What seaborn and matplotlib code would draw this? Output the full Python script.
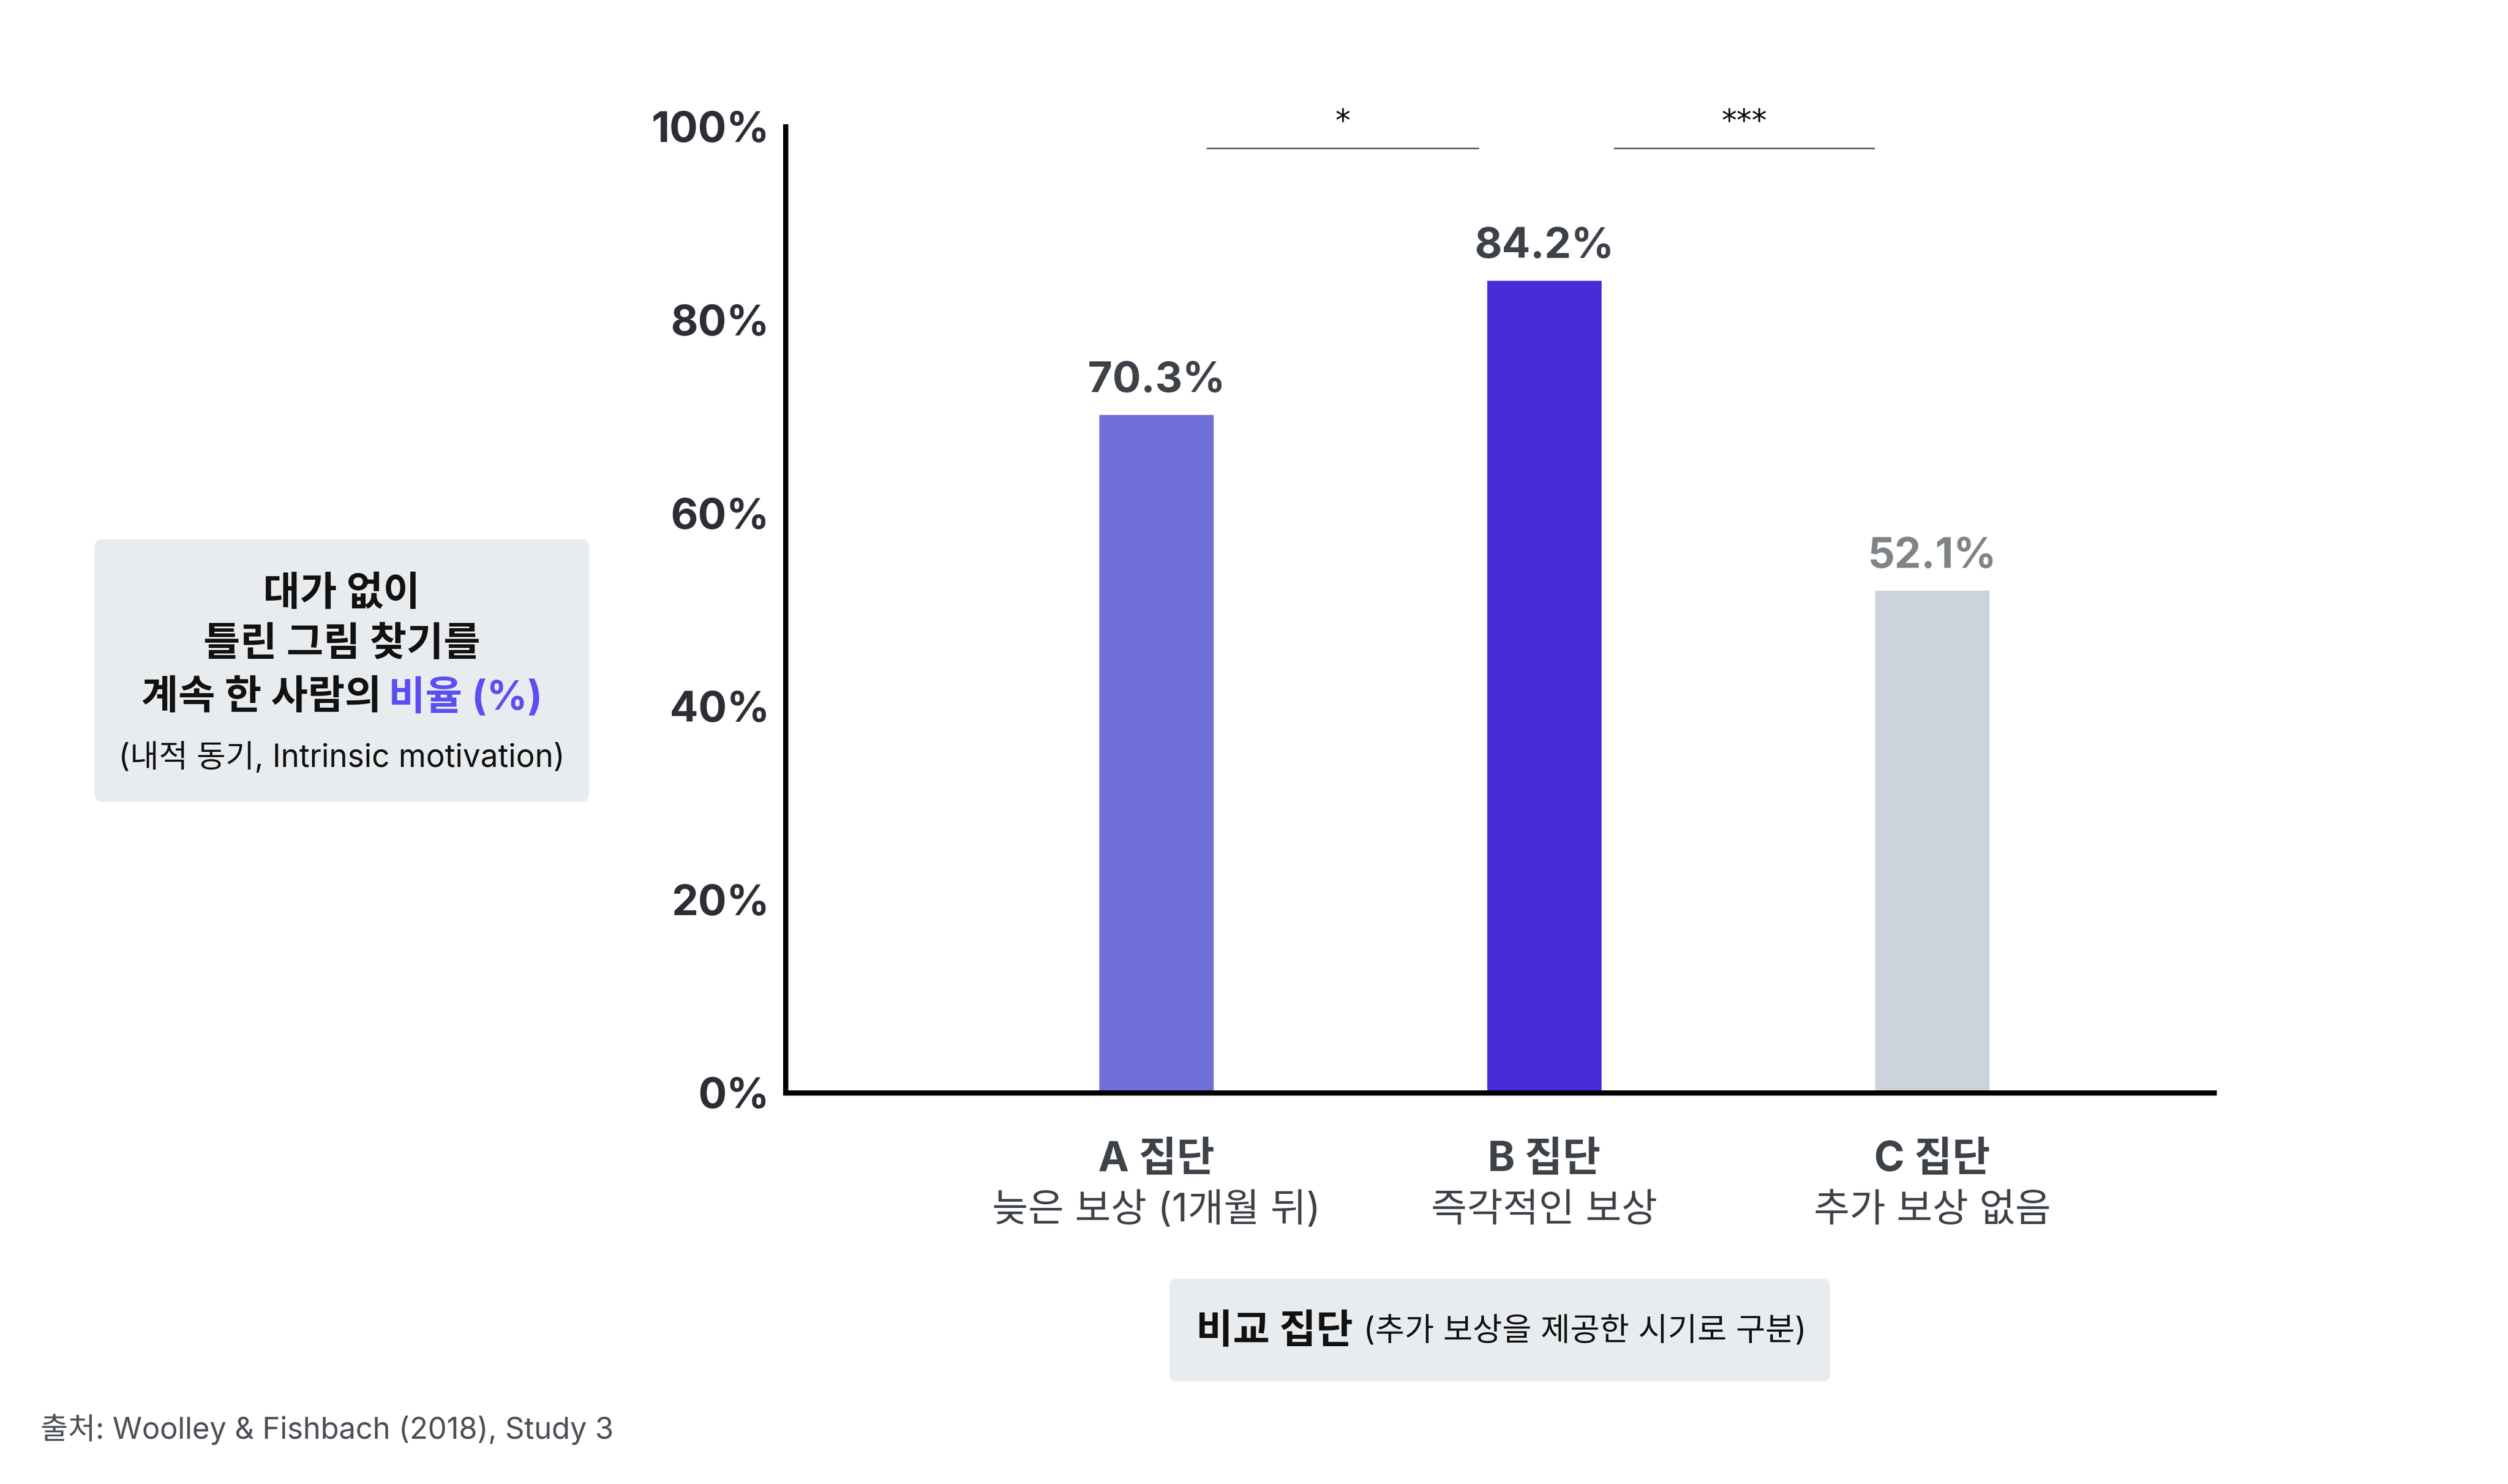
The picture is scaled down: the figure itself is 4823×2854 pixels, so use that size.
"""Bar chart: share of people who kept doing the spot-the-difference task"""
import matplotlib
matplotlib.use('Agg')
import matplotlib.pyplot as plt
import pandas as pd
import seaborn as sns
from matplotlib.patches import FancyBboxPatch

# Data
groups = ['A 집단', 'B 집단', 'C 집단']
group_notes = ['늦은 보상 (1개월 뒤)', '즉각적인 보상', '추가 보상 없음']
rates = [70.3, 84.2, 52.1]
bar_colors = ['#7170d8', '#462cd9', '#cdd3dc']
value_colors = ['#3d4249', '#3d4249', '#7f8489']
y_ticks = [0, 20, 40, 60, 80, 100]
sig_marks = ['*', '***']

W, H = 4823, 2854
DPI = 300

sns.set_theme(style='white')
plt.rcParams['font.family'] = ['Inter', 'Noto Sans CJK KR', 'DejaVu Sans']


def fx(px):
    """pixel x -> figure fraction"""
    return px / W


def fy(py):
    """pixel y (from top) -> figure fraction"""
    return 1 - py / H


fig = plt.figure(figsize=(W / DPI, H / DPI), dpi=DPI)
ax = fig.add_axes([fx(1511), fy(2102), fx(4258) - fx(1511), fy(244) - fy(2102)])

df = pd.DataFrame({'group': groups, 'rate': rates})
sns.barplot(data=df, x='group', y='rate', hue='group', palette=bar_colors,
            width=0.3, saturation=1, legend=False, ax=ax)

ax.set_xlim(-0.956, 2.727)
ax.set_ylim(0, 100)
ax.set_xlabel('')
ax.set_ylabel('')

# Spines
for side in ['top', 'right']:
    ax.spines[side].set_visible(False)
for side in ['left', 'bottom']:
    ax.spines[side].set_linewidth(2.4)
    ax.spines[side].set_color('black')

# Y ticks
ax.set_yticks(y_ticks, labels=[f'{t}%' for t in y_ticks])
ax.tick_params(axis='y', left=False, length=0, pad=7.5, labelsize=19.5,
               labelcolor='#2b2f35')
for lbl in ax.get_yticklabels():
    lbl.set_fontweight('bold')

# X tick labels (two lines, first bold)
ax.tick_params(axis='x', bottom=False, labelbottom=False)
for i, (g, note) in enumerate(zip(groups, group_notes)):
    ax.annotate(g, xy=(i, 0), xycoords=('data', 'axes fraction'),
                xytext=(0, -31), textcoords='offset points', ha='center', va='center',
                fontsize=19, fontweight='bold', color='#3d4249')
    ax.annotate(note, xy=(i, 0), xycoords=('data', 'axes fraction'),
                xytext=(0, -54.5), textcoords='offset points', ha='center', va='center',
                fontsize=18, color='#3d4249')

# Value labels
for i, v in enumerate(rates):
    ax.annotate(f'{v}%', xy=(i, v), xytext=(0, 10), textcoords='offset points',
                ha='center', va='baseline', fontsize=19.5, fontweight='bold',
                color=value_colors[i])

# Significance lines
bracket_x = [(0.13, 0.83), (1.18, 1.85)]
for (x0, x1), mark in zip(bracket_x, sig_marks):
    ax.plot([x0, x1], [97.8, 97.8], color='#555a60', lw=0.7, clip_on=False)
    ax.text((x0 + x1) / 2, 98.9, mark, ha='center', va='bottom', fontsize=14,
            color='black', family=['DejaVu Sans'], clip_on=False)

# Left box (y axis title)
box_l = FancyBboxPatch((fx(182), fy(1542)), fx(1133) - fx(182), fy(1037) - fy(1542),
                       boxstyle='round,pad=0,rounding_size=0.003',
                       mutation_aspect=W / H, transform=fig.transFigure,
                       facecolor='#e9ecef', edgecolor='none')
fig.patches.append(box_l)
fig.text(fx(657), fy(1143), '대가 없이', ha='center', va='center',
         fontsize=18.5, fontweight='bold', color='#111111')
fig.text(fx(657), fy(1241), '틀린 그림 찾기를', ha='center', va='center',
         fontsize=18.5, fontweight='bold', color='#111111')
fig.text(fx(272), fy(1343), '계속 한 사람의', ha='left', va='center',
         fontsize=18.5, fontweight='bold', color='#111111')
fig.text(fx(747), fy(1343), '비율 (%)', ha='left', va='center',
         fontsize=18.5, fontweight='bold', color='#5b4ff2')
fig.text(fx(657), fy(1457), '(내적 동기, Intrinsic motivation)', ha='center', va='center',
         fontsize=14.5, color='#111111')

# Bottom box (x axis title)
box_b = FancyBboxPatch((fx(2249), fy(2657)), fx(3519) - fx(2249), fy(2459) - fy(2657),
                       boxstyle='round,pad=0,rounding_size=0.003',
                       mutation_aspect=W / H, transform=fig.transFigure,
                       facecolor='#e9ecef', edgecolor='none')
fig.patches.append(box_b)
fig.text(fx(2300), fy(2562), '비교 집단', ha='left', va='center',
         fontsize=18.5, fontweight='bold', color='#111111')
fig.text(fx(2622), fy(2562), '(추가 보상을 제공한 시기로 구분)', ha='left', va='center',
         fontsize=14.8, color='#111111')

# Source
fig.text(fx(78), fy(2749), '출처: Woolley & Fishbach (2018), Study 3', ha='left', va='center',
         fontsize=13.8, color='#4a4f55')

fig.savefig('out.png', dpi=DPI, facecolor='white')
